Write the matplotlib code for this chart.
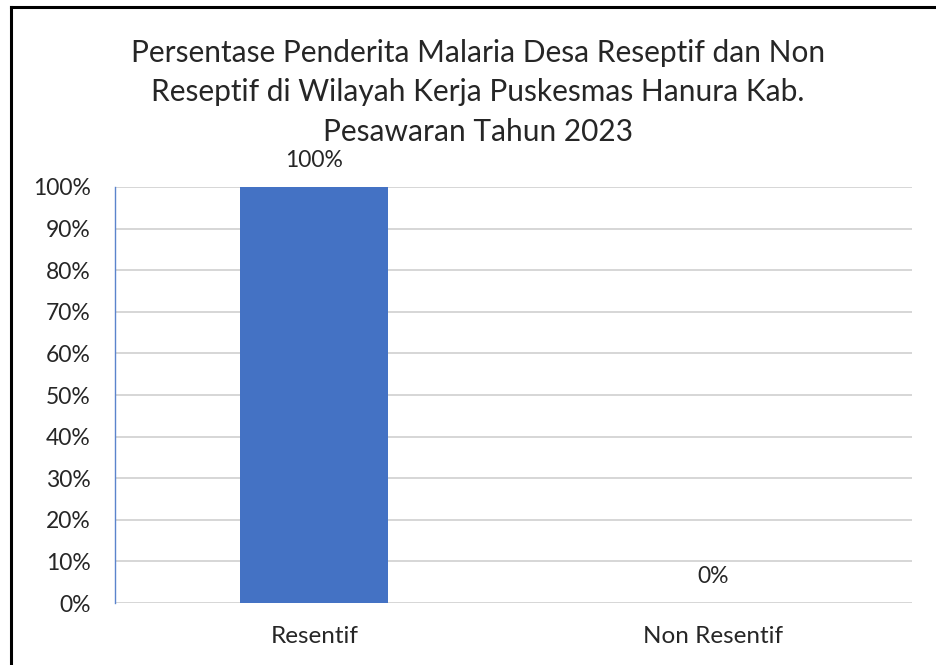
import matplotlib
matplotlib.use('Agg')
import matplotlib.pyplot as plt
from matplotlib.lines import Line2D
from matplotlib.ticker import PercentFormatter

categories = ['Resentif', 'Non Resentif']
values = [100, 0]
value_labels = ['100%', '0%']
title_lines = ['Persentase Penderita Malaria Desa Reseptif dan Non',
               'Reseptif di Wilayah Kerja Puskesmas Hanura Kab.',
               'Pesawaran Tahun 2023']

plt.rcParams['font.family'] = ['Lato', 'DejaVu Sans']
W, H = 937, 665

fig = plt.figure(figsize=(W / 100, H / 100), dpi=100)
ax = fig.add_axes([0.1227, 0.0932, 0.8506, 0.6256])

x = range(len(categories))
ax.bar(x, values, width=0.37, color='#4472C4', zorder=3)
for xi, v, lab in zip(x, values, value_labels):
    ax.annotate(lab, (xi, v), xytext=(0, 14.4), textcoords='offset points',
                ha='center', va='baseline', fontsize=16.5, color='#262626')

ax.set_xlim(-0.5, 1.5)
ax.set_ylim(0, 100)
ax.set_yticks(range(0, 101, 10))
ax.yaxis.set_major_formatter(PercentFormatter(decimals=0))
ax.set_xticks(list(x))
ax.set_xticklabels(categories, fontsize=17.5)
ax.tick_params(axis='both', length=0, labelcolor='#262626')
ax.tick_params(axis='y', labelsize=16.5, pad=17.5)
ax.tick_params(axis='x', pad=16.5)
ax.grid(axis='y', color='#d0d0d0', linewidth=1.2, zorder=0)
for s in ['top', 'right', 'bottom']:
    ax.spines[s].set_visible(False)
ax.spines['left'].set_color('#5b84cc')
ax.spines['left'].set_linewidth(1.0)

# title, one line per baseline
for i, line in enumerate(title_lines):
    fig.text(478 / W, 1 - (62 + 39.5 * i) / H, line, ha='center', va='baseline',
             fontsize=21.5, color='#262626')

# border lines on top and left
fig.add_artist(Line2D([0.0117, 1], [0.9895, 0.9895], color='black', linewidth=2.2,
                      transform=fig.transFigure))
fig.add_artist(Line2D([0.0117, 0.0117], [0, 0.9895], color='black', linewidth=2.2,
                      transform=fig.transFigure))

fig.savefig('out.png', dpi=100)
